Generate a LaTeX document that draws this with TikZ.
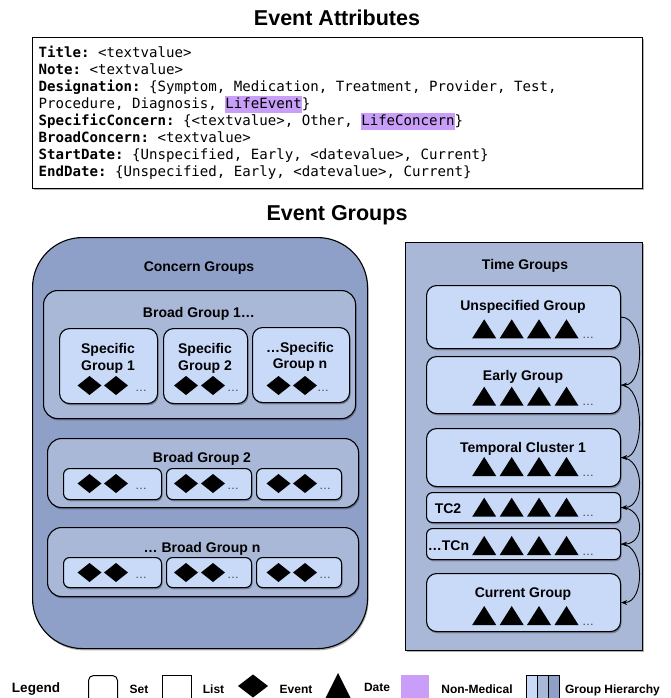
\documentclass[tikz,border=0pt]{standalone}
\usepackage{fontspec}
\setmainfont{Liberation Sans}
\setmonofont{DejaVu Sans Mono}
\usetikzlibrary{shadows,arrows.meta}

\definecolor{lvlone}{RGB}{143,160,200}
\definecolor{lvltwo}{RGB}{170,184,216}
\definecolor{lvlthree}{RGB}{201,218,248}
\definecolor{nonmedical}{RGB}{200,158,248}

% purple highlight for non-medical values
\newcommand\nonmedhl[1]{{\setlength\fboxsep{0pt}\colorbox{nonmedical}{\rule[-4.2pt]{0pt}{16.6pt}#1}}}

\tikzset{
  boxshadow/.style={drop shadow={shadow xshift=1pt, shadow yshift=-1.8pt, opacity=0.3, fill=black}},
  frame/.style={draw=black, line width=1.1pt, inner sep=0pt, anchor=north west, boxshadow},
  outergrp/.style={frame, fill=lvlone, rounded corners=50pt},
  midgrp/.style={frame, fill=lvltwo, rounded corners=14pt},
  innergrp/.style={frame, fill=lvlthree, rounded corners=10pt},
  smallgrp/.style={frame, fill=lvlthree, rounded corners=6pt},
  timegrp/.style={frame, fill=lvltwo},
  bigtitle/.style={font=\bfseries\fontsize{21.5}{24}\selectfont, anchor=base, inner sep=0pt},
  grplabel/.style={font=\bfseries\fontsize{14}{16.5}\selectfont, anchor=base, inner sep=0pt},
  attrline/.style={font=\ttfamily\fontsize{14.1}{17}\selectfont, anchor=base west, inner sep=0pt},
  more/.style={font=\fontsize{12}{14}\selectfont, text=black!75, anchor=base west, inner sep=0pt},
  legtext/.style={font=\bfseries\fontsize{12}{14}\selectfont, anchor=base, inner sep=0pt},
  evt/.pic={\fill (-12,0) -- (0,-9.5) -- (12,0) -- (0,9.5) -- cycle;},
  dte/.pic={\fill (-12,9.5) -- (12,9.5) -- (0,-9.5) -- cycle;},
  nextgrp/.style={-{Stealth[length=6pt,width=5pt]}, line width=0.9pt},
}

\begin{document}
\begin{tikzpicture}[x=1pt,y=-1pt]
\useasboundingbox (0,0) rectangle (671,698);
\clip (0,0) rectangle (671,698);

% ---------------- attributes ----------------
\node[bigtitle] (attrtitle) at (337,26) {Event Attributes};
\node[frame, fill=white, minimum width=610pt, minimum height=151pt] (attr) at (32,37) {};
\node[attrline] (l1) at (38.5,57.5) {\textbf{Title:} <textvalue>};
\node[attrline] (l2) at (38.5,74.5) {\textbf{Note:} <textvalue>};
\node[attrline] (l3) at (38.5,91.5) {\textbf{Designation:} \{Symptom, Medication, Treatment, Provider, Test,};
\node[attrline] (l4) at (38.5,108.5) {Procedure, Diagnosis, \nonmedhl{LifeEvent}\}};
\node[attrline] (l5) at (38.5,125.5) {\textbf{SpecificConcern:} \{<textvalue>, Other, \nonmedhl{LifeConcern}\}};
\node[attrline] (l6) at (38.5,142.5) {\textbf{BroadConcern:} <textvalue>};
\node[attrline] (l7) at (38.5,159.5) {\textbf{StartDate:} \{Unspecified, Early, <datevalue>, Current\}};
\node[attrline] (l8) at (38.5,176.5) {\textbf{EndDate:} \{Unspecified, Early, <datevalue>, Current\}};

% ---------------- groups ----------------
\node[bigtitle] (grptitle) at (337,220.5) {Event Groups};

% concern groups
\node[outergrp, minimum width=335pt, minimum height=411pt] (concern) at (32,237) {};
\node[grplabel] (concernlbl) at (199,271.5) {Concern Groups};

\node[midgrp, minimum width=312pt, minimum height=128pt] (bg1) at (43,290) {};
\node[grplabel] (bg1lbl) at (199,317) {Broad Group 1…};
\node[innergrp, minimum width=98pt, minimum height=75pt] (sg1) at (59,328) {};
\node[innergrp, minimum width=84pt, minimum height=75pt] (sg2) at (163,328) {};
\node[innergrp, minimum width=97pt, minimum height=75pt] (sgn) at (252,327) {};
\node[grplabel] (sg1a) at (108,353.5) {Specific};
\node[grplabel] (sg1b) at (108,370) {Group 1};
\node[grplabel] (sg2a) at (205,353.5) {Specific};
\node[grplabel] (sg2b) at (205,370) {Group 2};
\node[grplabel] (sgna) at (300,352) {…Specific};
\node[grplabel] (sgnb) at (300,368) {Group n};
\foreach \x in {89.5,116,186,213,278.5,305} \pic at (\x,385.5) {evt};
\node[more] (sg1m) at (135,391) {…};
\node[more] (sg2m) at (227,391) {…};
\node[more] (sgnm) at (317,391) {…};

\node[midgrp, minimum width=311pt, minimum height=69pt] (bg2) at (47,438) {};
\node[grplabel] (bg2lbl) at (202,462) {Broad Group 2};
\node[smallgrp, minimum width=98pt, minimum height=31pt] (bg2a) at (63,468) {};
\node[smallgrp, minimum width=85pt, minimum height=31pt] (bg2b) at (166,468) {};
\node[smallgrp, minimum width=85pt, minimum height=31pt] (bg2c) at (256,468) {};
\foreach \x in {89.5,116,186,213,278.5,305} \pic at (\x,483.5) {evt};
\node[more] (bg2am) at (135,489) {…};
\node[more] (bg2bm) at (227,489) {…};
\node[more] (bg2cm) at (319,489) {…};

\node[midgrp, minimum width=311pt, minimum height=69pt] (bgn) at (47,527) {};
\node[grplabel] (bgnlbl) at (202,552) {… Broad Group n};
\node[smallgrp, minimum width=98pt, minimum height=30pt] (bgna) at (63,557) {};
\node[smallgrp, minimum width=85pt, minimum height=30pt] (bgnb) at (166,557) {};
\node[smallgrp, minimum width=85pt, minimum height=30pt] (bgnc) at (256,557) {};
\foreach \x in {89.5,116,186,213,278.5,305} \pic at (\x,572.5) {evt};
\node[more] (bgnam) at (135,578) {…};
\node[more] (bgnbm) at (227,578) {…};
\node[more] (bgncm) at (319,578) {…};

% time groups
\node[timegrp, minimum width=237pt, minimum height=408pt] (time) at (405,242) {};
\node[grplabel] (timelbl) at (525,269) {Time Groups};

\node[innergrp, minimum width=194pt, minimum height=63pt] (tu) at (426,285) {};
\node[grplabel] (tulbl) at (523,310) {Unspecified Group};
\node[innergrp, minimum width=194pt, minimum height=57pt] (te) at (426,356) {};
\node[grplabel] (telbl) at (523,380) {Early Group};
\node[innergrp, minimum width=194pt, minimum height=58pt] (tc1) at (426,428) {};
\node[grplabel] (tc1lbl) at (523,452) {Temporal Cluster 1};
\node[smallgrp, minimum width=194pt, minimum height=30pt] (tc2) at (426,492) {};
\node[grplabel] (tc2lbl) at (448,513) {TC2};
\node[smallgrp, minimum width=194pt, minimum height=31pt] (tcn) at (426,528) {};
\node[grplabel] (tcnlbl) at (448.5,550) {…TCn};
\node[innergrp, minimum width=194pt, minimum height=58pt] (tcur) at (426,573) {};
\node[grplabel] (tcurlbl) at (523,597.5) {Current Group};

\foreach \yb/\nm in {338.3/tum,405.7/tem,476/tc1m,516.7/tc2m,555/tcnm,625/tcurm}{
  \foreach \x in {484.2,511.7,539,566.5} \pic at (\x,\yb-9.5) {dte};
  \node[more] (\nm) at (582,\yb) {…};
}

\draw[nextgrp] (tu.east) .. controls +(24,0) and +(24,0) .. (te.east);
\draw[nextgrp] (te.east) .. controls +(24,0) and +(24,0) .. (tc1.east);
\draw[nextgrp] (tc1.east) .. controls +(24,0) and +(24,0) .. (tc2.east);
\draw[nextgrp] (tc2.east) .. controls +(24,0) and +(24,0) .. (tcn.east);
\draw[nextgrp] (tcn.east) .. controls +(24,0) and +(24,0) .. (tcur.east);

% ---------------- legend ----------------
\node[font=\bfseries\fontsize{13.5}{16}\selectfont, anchor=base, inner sep=0pt] (legendlbl) at (36,692) {Legend};
\node[draw=black, line width=1pt, rounded corners=5pt, minimum width=29pt, minimum height=28pt, anchor=north west, inner sep=0pt] (legset) at (88,675) {};
\node[legtext] (legsetlbl) at (139,693) {Set};
\node[draw=black, line width=1pt, minimum width=29pt, minimum height=28pt, anchor=north west, inner sep=0pt] (leglist) at (162,675) {};
\node[legtext] (leglistlbl) at (213.5,693) {List};
\fill (238,686) -- (253,674.5) -- (268,686) -- (253,697.5) -- cycle;
\node[legtext] (legevtlbl) at (296,693) {Event};
\fill (324,701) -- (338,673) -- (352,701) -- cycle;
\node[legtext] (legdatelbl) at (377,691.5) {Date};
\node[fill=nonmedical, minimum width=28pt, minimum height=28pt, anchor=north west, inner sep=0pt] (legnm) at (401,675) {};
\node[legtext] (legnmlbl) at (477,693) {Non-Medical};
\node[draw=black, line width=0.9pt, fill=lvlthree, minimum width=11pt, minimum height=28pt, anchor=north west, inner sep=0pt] (legh1) at (526,675) {};
\node[draw=black, line width=0.9pt, fill=lvltwo, minimum width=11pt, minimum height=28pt, anchor=north west, inner sep=0pt] (legh2) at (537,675) {};
\node[draw=black, line width=0.9pt, fill=lvlone, minimum width=11pt, minimum height=28pt, anchor=north west, inner sep=0pt] (legh3) at (548,675) {};
\node[legtext] (leghlbl) at (612.5,693) {Group Hierarchy};
\end{tikzpicture}
\end{document}
